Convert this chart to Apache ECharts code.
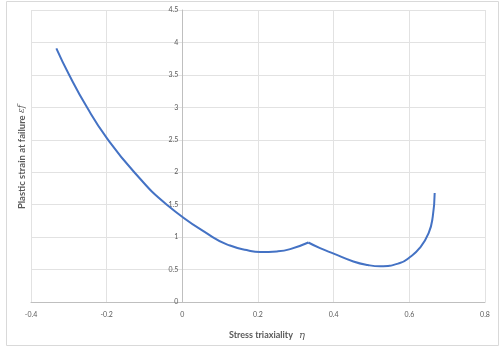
<!DOCTYPE html>
<html>
<head>
<meta charset="utf-8">
<script src="https://cdn.jsdelivr.net/npm/echarts@6/dist/echarts.min.js"></script>
<style>
  html, body { margin: 0; padding: 0; background: #fff; }
  #main { width: 501px; height: 348px; }
</style>
</head>
<body>
<div id="main"></div>
<script>
// fracture locus
// branch 1: eta from -1/3 up to the kink at 1/3
const etaLeft = [-0.333, -0.300, -0.252, -0.200, -0.127, -0.041, 0.080, 0.126, 0.170, 0.206, 0.250, 0.285, 0.333];
const epsLeft = [3.91, 3.51, 3.00, 2.53, 2.00, 1.50, 1.00, 0.87, 0.80, 0.77, 0.78, 0.815, 0.917];
// branch 2: kink at 1/3 up to 2/3
const etaRight = [0.333, 0.364, 0.400, 0.452, 0.490, 0.523, 0.575, 0.601, 0.627, 0.651, 0.662, 0.667];
const epsRight = [0.917, 0.83, 0.745, 0.625, 0.57, 0.55, 0.60, 0.69, 0.83, 1.06, 1.32, 1.68];

const xTicks = { min: -0.4, max: 0.8, step: 0.2 };
const yTicks = { min: 0, max: 4.5, step: 0.5 };

const pairs = (xs, ys) => xs.map((x, i) => [x, ys[i]]);

const W = 501;
const gridLeft = 31, gridRight = 16;
// y axis sits on eta = 0, shift the left axis (line + labels) into the grid
const yShift = (W - gridLeft - gridRight) * (0 - xTicks.min) / (xTicks.max - xTicks.min);

const chart = echarts.init(document.getElementById('main'));

const lineColor = '#4472C4';
const textGray = '#595959';
const gridGray = '#e2e2e2';

const option = {
  animation: false,
  grid: { left: gridLeft, right: gridRight, top: 10, bottom: 46, outerBoundsMode: 'none' },
  xAxis: {
    type: 'value',
    min: xTicks.min,
    max: xTicks.max,
    interval: xTicks.step,
    axisLine: { show: true, onZero: true, lineStyle: { color: '#bfbfbf', width: 1 } },
    axisTick: { show: false },
    axisLabel: { color: textGray, fontSize: 7, fontFamily: 'Lato', margin: 9 },
    splitLine: { show: true, lineStyle: { color: gridGray, width: 1 } },
    name: 'Stress triaxiality {i|η}',
    nameLocation: 'middle',
    nameGap: 28,
    nameTextStyle: {
      color: textGray, fontSize: 9, fontWeight: 'bold', fontFamily: 'Lato',
      padding: [0, 0, 0, 18],
      rich: { i: { fontStyle: 'italic', fontWeight: 'normal', fontSize: 10, fontFamily: 'DejaVu Serif', color: textGray, padding: [0, 0, 0, 4] } }
    }
  },
  yAxis: {
    type: 'value',
    position: 'left',
    offset: -yShift,
    min: yTicks.min,
    max: yTicks.max,
    interval: yTicks.step,
    axisLine: { show: true, onZero: false, lineStyle: { color: '#bfbfbf', width: 1 } },
    axisTick: { show: false },
    axisLabel: { color: textGray, fontSize: 7, fontFamily: 'Lato', margin: 4 },
    splitLine: { show: true, lineStyle: { color: gridGray, width: 1 } }
  },
  graphic: [
    {
      type: 'rect',
      shape: { x: 6.5, y: 1.5, width: 492, height: 344 },
      style: { fill: 'none', stroke: '#d9d9d9', lineWidth: 1 },
      silent: true
    },
    {
      type: 'text',
      x: 22, y: 157,
      rotation: Math.PI / 2,
      style: {
        text: 'Plastic strain at failure {i|εf}',
        fill: textGray,
        font: 'bold 9.5px Lato',
        align: 'center',
        verticalAlign: 'middle',
        rich: { i: { fontStyle: 'italic', fontWeight: 'normal', fontSize: 9, fontFamily: 'DejaVu Serif', fill: textGray } }
      }
    }
  ],
  series: [
    {
      type: 'line',
      data: pairs(etaLeft, epsLeft),
      smooth: 0.5,
      showSymbol: false,
      lineStyle: { color: lineColor, width: 2 }
    },
    {
      type: 'line',
      data: pairs(etaRight, epsRight),
      smooth: 0.5,
      showSymbol: false,
      lineStyle: { color: lineColor, width: 2 }
    }
  ]
};

chart.setOption(option);
</script>
</body>
</html>
